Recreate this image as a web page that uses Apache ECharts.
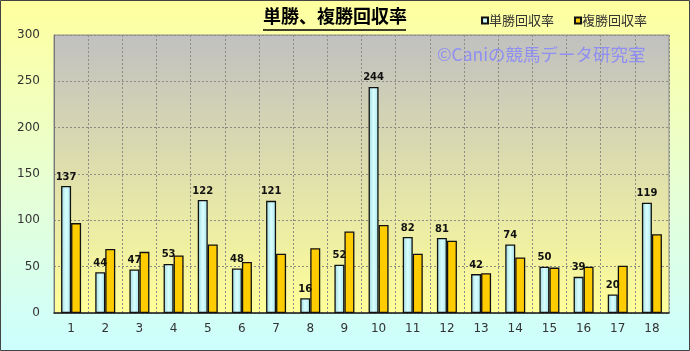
<!DOCTYPE html>
<html><head><meta charset="utf-8">
<script src="https://cdn.jsdelivr.net/npm/echarts@6/dist/echarts.min.js"></script>
<style>html,body{margin:0;padding:0;}#c{width:690px;height:351px;}</style>
</head><body><div id="c"></div>
<script>
const categories = ['1','2','3','4','5','6','7','8','9','10','11','12','13','14','15','16','17','18'];
const tanshoValues = [137,44,47,53,122,48,121,16,52,244,82,81,42,74,50,39,20,119];
const fukushoValues = [97,69,66,62,74,55,64,70,88,95,64,78,43,60,49,50,51,85];
const yTicks = [0,50,100,150,200,250,300];
const titleText = '単勝、複勝回収率';
const seriesNames = ['単勝回収率','複勝回収率'];
const watermarkText = '©Caniの競馬データ研究室';

const chart = echarts.init(document.getElementById('c'), null, {renderer:'canvas'});
const jp = '"Noto Sans CJK JP", "DejaVu Sans", sans-serif';
const gridLine = {show:true,lineStyle:{color:'#8c8c84',type:[2,2],width:1}};
chart.setOption({
  animation:false,
  backgroundColor:{type:'linear',x:0,y:0,x2:0,y2:1,colorStops:[{offset:0,color:'#FFFF9E'},{offset:0.55,color:'#E6FFD6'},{offset:1,color:'#CCFFFF'}]},
  title:{text:titleText,left:263,top:7,itemGap:0,padding:0,
    textStyle:{fontFamily:jp,fontSize:18,fontWeight:'bold',color:'#000'}},
  legend:{data:seriesNames,right:43,top:14,itemWidth:6,itemHeight:6,itemGap:20,
    icon:'rect',padding:0,
    textStyle:{fontFamily:jp,fontSize:13,color:'#333',padding:[0,0,0,-4]}},
  grid:{left:54,right:21,top:35,bottom:38,show:true,borderWidth:1,borderColor:'#8c8c8c',
    backgroundColor:{type:'linear',x:0,y:0,x2:0,y2:1,colorStops:[{offset:0,color:'#C0C0C0'},{offset:1,color:'#FFFF99'}]}},
  xAxis:{type:'category',data:categories,
    axisLine:{show:true,lineStyle:{color:'#222',width:1.5}},
    axisTick:{show:false},
    axisLabel:{fontFamily:'"DejaVu Sans", sans-serif',fontSize:12,color:'#333',margin:10},
    splitLine:gridLine},
  yAxis:{type:'value',min:yTicks[0],max:yTicks[yTicks.length-1],interval:50,
    axisLine:{show:true,lineStyle:{color:'#777',width:1}},
    axisTick:{show:false},
    axisLabel:{fontFamily:'"DejaVu Sans", sans-serif',fontSize:12,color:'#333',margin:14},
    splitLine:gridLine},
  series:[
    {name:seriesNames[0],type:'bar',data:tanshoValues,barWidth:10,barGap:'0%',
      itemStyle:{color:{type:'linear',x:0,y:0,x2:1,y2:0,colorStops:[{offset:0,color:'#9ED8DE'},{offset:0.5,color:'#D8FFFF'},{offset:1,color:'#A8E4EA'}]},borderColor:'#111',borderWidth:1.3},
      label:{show:true,position:'top',distance:4,fontFamily:'"DejaVu Sans", sans-serif',fontSize:10,fontWeight:'bold',color:'#111'}},
    {name:seriesNames[1],type:'bar',data:fukushoValues,barWidth:10,barGap:'0%',
      itemStyle:{color:'#FFCC00',borderColor:'#111',borderWidth:1.3}}
  ],
  color:['#BFF3F7','#FFCC00'],
  graphic:[
    {type:'text',left:437,top:46,z:10,style:{text:watermarkText,fontFamily:jp,fontSize:17.5,fontWeight:'normal',fill:'#8F8FF2'}},
    {type:'line',shape:{x1:263,y1:30,x2:406,y2:30},style:{stroke:'#000',lineWidth:1.5},z:10},
    {type:'rect',shape:{x:0.5,y:0.5,width:689,height:350},style:{fill:'none',stroke:'#444',lineWidth:1},z:10}
  ]
});
</script></body></html>
